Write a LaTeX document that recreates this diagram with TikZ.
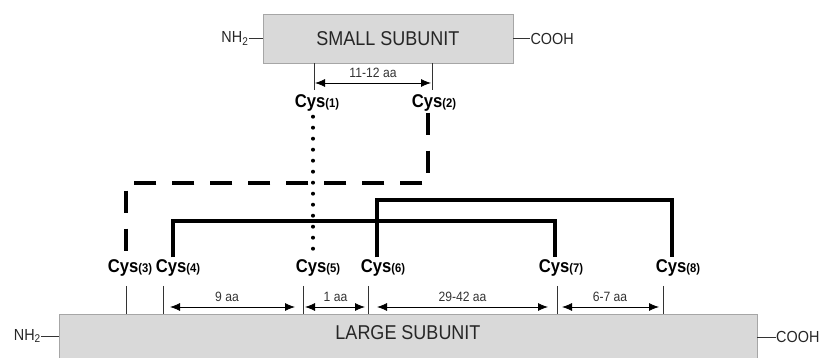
\documentclass[tikz,border=0pt]{standalone}
\usepackage{fontspec}
\setmainfont[FakeStretch=0.9]{Liberation Sans}
\usetikzlibrary{arrows.meta,positioning,calc}
\newcommand\cyslab[1]{\textbf{Cys}{\fontsize{12.5}{12.5}\selectfont\textbf{(#1)}}}
\begin{document}
\begin{tikzpicture}[x=1pt,y=-1pt,
  box/.style={draw=gray!70, fill=gray!30, line width=0.8pt, inner sep=0, font=\fontsize{20}{20}\selectfont, text=black!85},
  cyslabel/.style={inner sep=0, text height=13pt, text depth=4pt, font=\fontsize{18.5}{18.5}\selectfont},
  terminal/.style={inner sep=0, font=\fontsize{16}{16}\selectfont, text=black!85},
  tick/.style={line width=0.7pt, draw=black!80},
  dim/.style={line width=0.8pt, {Latex[length=10pt,width=8pt]}-{Latex[length=10pt,width=8pt]}},
  dimlabel/.style={font=\fontsize{13.5}{13.5}\selectfont, text=black!80, inner sep=0},
  bond/.style={line width=4.5pt, line join=miter},
  dashbond/.style={line width=4.5pt, line join=miter, dash pattern=on 22pt off 16pt},
  dotbond/.style={line width=4pt, line cap=round, dash pattern=on 0pt off 11pt},
]
\useasboundingbox (0,0) rectangle (823,358);

% boxes
\node[box, minimum width=250pt, minimum height=49pt] (small) at (388,38.5) {SMALL SUBUNIT};
\node[box, minimum width=698pt, minimum height=48pt] (large) at (408,338) {};
\node[font=\fontsize{20}{20}\selectfont, text=black!85] (largetxt) at (408,333) {LARGE SUBUNIT};

% termini
\node[terminal, left=14pt of small.west] (n1) {NH\textsubscript{2}};
\node[terminal, right=17pt of small.east] (c1t) {COOH};
\draw[tick] (n1.east |- small.west) -- (small.west);
\draw[tick] (small.east) -- (c1t.west |- small.east);
\node[terminal, anchor=east] (n2) at (41,336) {NH\textsubscript{2}};
\node[terminal, anchor=west] (c2t) at (776,337) {COOH};
\draw[tick] (n2.east) -- (n2.east -| large.west);
\draw[tick] (c2t.west) -- (c2t.west -| large.east);

% Cys labels
\node[cyslabel] (cy1) at (317,103) {\cyslab{1}};
\node[cyslabel] (cy2) at (434,103) {\cyslab{2}};
\node[cyslabel] (cy3) at (130,268) {\cyslab{3}};
\node[cyslabel] (cy4) at (178,268) {\cyslab{4}};
\node[cyslabel] (cy5) at (318,268) {\cyslab{5}};
\node[cyslabel] (cy6) at (383,268) {\cyslab{6}};
\node[cyslabel] (cy7) at (561,268) {\cyslab{7}};
\node[cyslabel] (cy8) at (678,268) {\cyslab{8}};

% small subunit spacing
\coordinate (a1) at (314,90);
\coordinate (a2) at (432,90);
\draw[tick] (small.south -| a1) -- (a1);
\draw[tick] (small.south -| a2) -- (a2);
\draw[dim, shorten <=1pt, shorten >=1pt] ([yshift=7pt]a1) -- node[dimlabel, above=5pt] {11-12 aa} ([yshift=7pt]a2);

% large subunit spacing
\coordinate (k3) at (126,286);
\coordinate (k4) at (163,286);
\coordinate (k5) at (303,286);
\coordinate (k6) at (368,286);
\coordinate (k7) at (557,286);
\coordinate (k8) at (663,286);
\foreach \k in {k3,k4,k5,k6,k7,k8}
  \draw[tick] (\k) -- (\k |- large.north);
\draw[dim, shorten <=7pt, shorten >=8pt] ([yshift=-21pt]k4) -- node[dimlabel, above=5pt, xshift=-6pt] {9 aa} ([yshift=-21pt]k5);
\draw[dim, shorten <=2pt, shorten >=3pt] ([yshift=-21pt]k5) -- node[dimlabel, above=5pt] {1 aa} ([yshift=-21pt]k6);
\draw[dim, shorten <=9pt, shorten >=9pt] ([yshift=-21pt]k6) -- node[dimlabel, above=5pt] {29-42 aa} ([yshift=-21pt]k7);
\draw[dim, shorten <=5pt, shorten >=4pt] ([yshift=-21pt]k7) -- node[dimlabel, above=5pt] {6-7 aa} ([yshift=-21pt]k8);

% disulfide bonds
\coordinate (d2) at (428,183);
\coordinate (d3) at (126,183);
\draw[dashbond] ([yshift=-1pt]cy2.south -| d2) -- (d2) -- (d3) -- ([yshift=3pt]cy3.north -| d3);

\coordinate (dd) at (313,0);
\draw[dotbond] ([yshift=-5pt]cy1.south -| dd) -- ([yshift=6pt]cy5.north -| dd);

\coordinate (s4) at (173,221);
\coordinate (s7) at (555,221);
\draw[bond] ([yshift=2pt]cy4.north -| s4) -- (s4) -- (s7) -- ([yshift=2pt]cy7.north -| s7);

\coordinate (s6) at (377,200);
\coordinate (s8) at (672,200);
\draw[bond] ([yshift=2pt]cy6.north -| s6) -- (s6) -- (s8) -- ([yshift=2pt]cy8.north -| s8);
\end{tikzpicture}
\end{document}
